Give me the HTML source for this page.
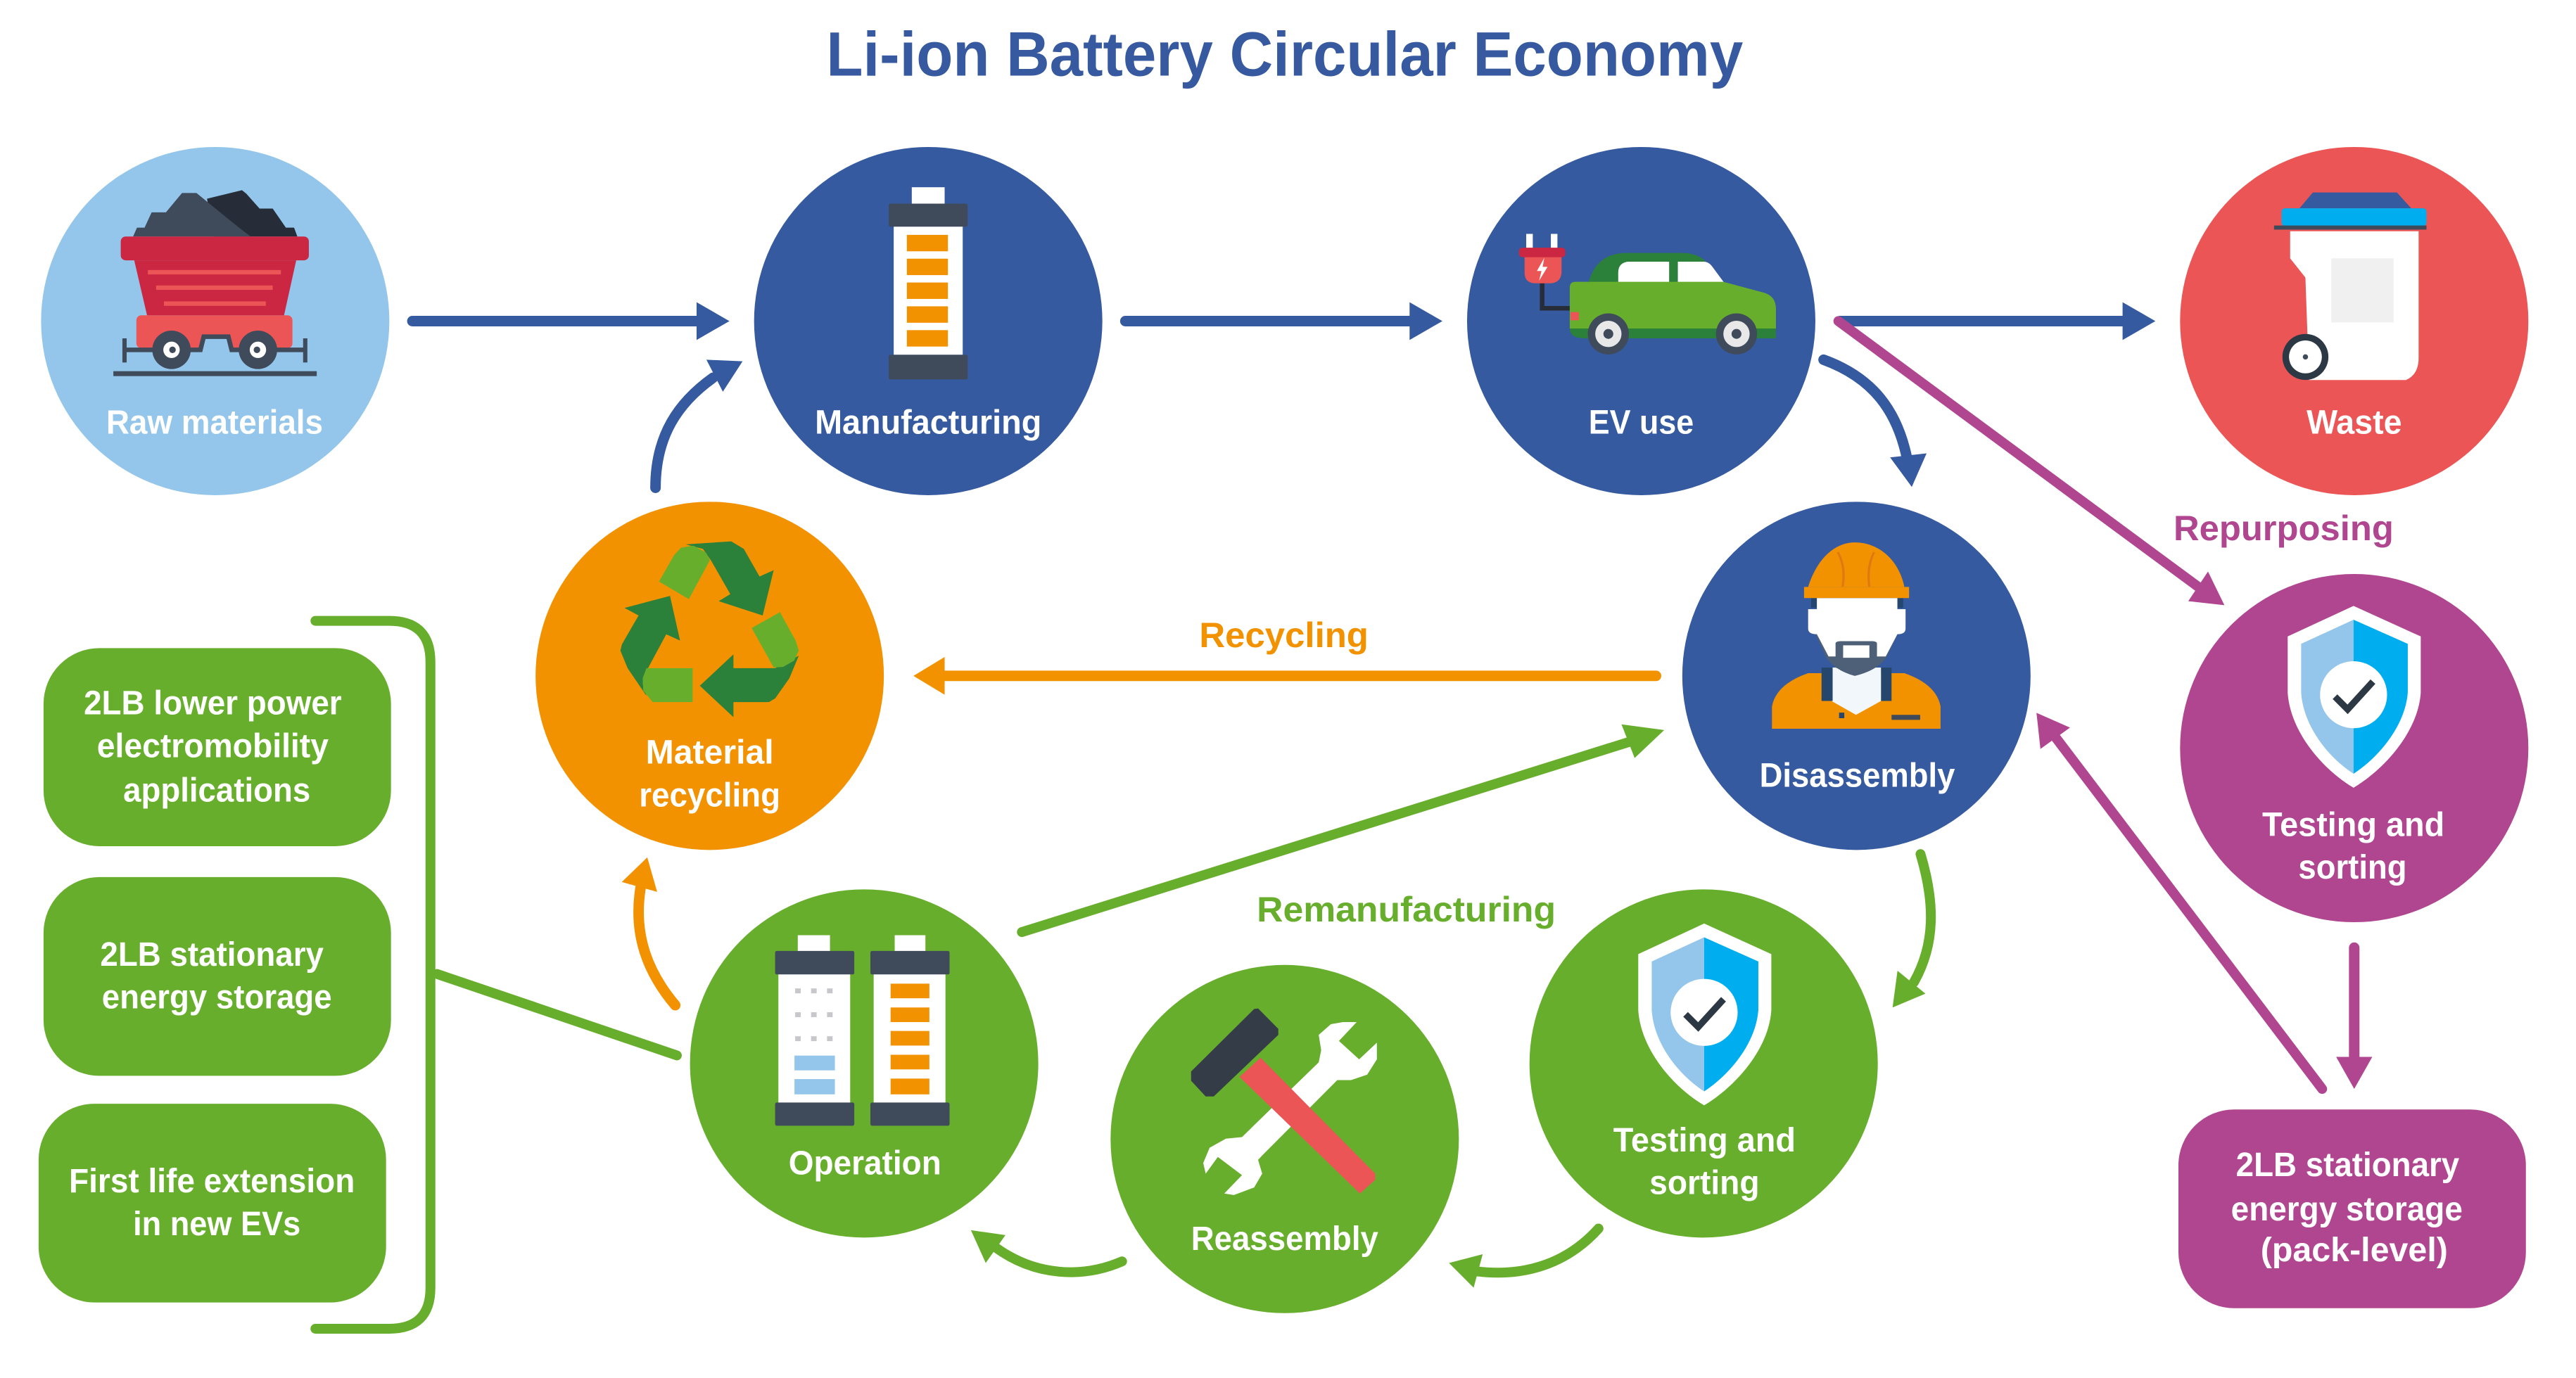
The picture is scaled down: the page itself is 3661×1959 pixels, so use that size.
<!DOCTYPE html>
<html lang="en">
<head>
<meta charset="utf-8">
<title>Li-ion Battery Circular Economy</title>
<style>
html,body{margin:0;padding:0;background:#fff;width:3661px;height:1959px;overflow:hidden}
svg{display:block}
text{font-family:"Liberation Sans",sans-serif;font-weight:700;font-size:20.5px}
.w{fill:#fff}
.l{fill:none;stroke-linecap:round}
</style>
</head>
<body>
<svg width="3661" height="1959" viewBox="0 0 1568 839" xmlns="http://www.w3.org/2000/svg" preserveAspectRatio="none">
<defs>
<g id="shield">
<path d="M1432.6 368.9 L1473.5 387.5 V421.7 C1472 445 1452 468 1432.6 479.6 C1413 468 1394 445 1392.5 421.7 V387.5 Z" fill="#fff"/>
<path d="M1432.6 377.3 L1400.7 392 V421.7 C1402 442 1417 461 1432.6 471.1 Z" fill="#93c6ea"/>
<path d="M1432.6 377.3 L1465.6 392 V421.7 C1464 442 1448 461 1432.6 471.1 Z" fill="#00aeef"/>
<circle cx="1432.6" cy="423" r="20.4" fill="#fff"/>
<polyline points="1421.3,424.2 1429,431.9 1444.4,415" fill="none" stroke="#2d3845" stroke-width="4"/>
</g>
</defs>
<rect width="1568" height="839" fill="#fff"/>

<text x="503" y="46" textLength="558" lengthAdjust="spacingAndGlyphs" style="font-size:38px" fill="#36599f">Li-ion Battery Circular Economy</text>

<!-- circles -->
<circle cx="131" cy="195.5" r="106" fill="#93c6ea"/>
<circle cx="565" cy="195.5" r="106" fill="#365a9f"/>
<circle cx="999" cy="195.5" r="106" fill="#365a9f"/>
<circle cx="1433" cy="195.5" r="106" fill="#ec5555"/>
<circle cx="1130" cy="411.5" r="106" fill="#365a9f"/>
<circle cx="432" cy="411.5" r="106" fill="#f39200"/>
<circle cx="1433" cy="455.5" r="106" fill="#b14690"/>
<circle cx="526" cy="647.5" r="106" fill="#68ae2d"/>
<circle cx="782" cy="693.5" r="106" fill="#68ae2d"/>
<circle cx="1037" cy="647.5" r="106" fill="#68ae2d"/>

<!-- boxes -->
<rect x="26.5" y="394.6" width="211.5" height="120.6" rx="34" fill="#68ae2d"/>
<rect x="26.5" y="534" width="211.5" height="121" rx="34" fill="#68ae2d"/>
<rect x="23.5" y="672" width="211.5" height="121" rx="34" fill="#68ae2d"/>
<rect x="1326" y="675.5" width="211.5" height="121" rx="34" fill="#b14690"/>

<!-- connectors -->
<g class="l" stroke="#365a9f" stroke-width="6.4">
<path class="l" d="M251 195.5 H426"/>
<path class="l" d="M685 195.5 H860"/>
<path class="l" d="M1120 195.5 H1294"/>
<path class="l" d="M399 297 C399 265 413 245 434 230"/>
<path class="l" d="M1110 219 C1140 230 1155 250 1161 280"/>
</g>
<g fill="#365a9f">
<polygon points="424,184 444,195.5 424,207"/>
<polygon points="858,184 878,195.5 858,207"/>
<polygon points="1292,184 1312,195.5 1292,207"/>
<polygon points="452,220 430,219 440,238.5"/>
<polygon points="1163.7,296.5 1150.5,278.5 1172.7,276"/>
</g>

<path class="l" d="M1008 411.5 H573" stroke="#f39200" stroke-width="6.4"/>
<polygon points="556,411.5 575,400 575,423" fill="#f39200"/>
<path class="l" d="M411 612 C395 593 385 570 390 540" stroke="#f39200" stroke-width="6.4"/>
<polygon points="394,522 378.5,537 400,543" fill="#f39200"/>

<g class="l" stroke="#68ae2d" stroke-width="6">
<path class="l" d="M622 567.5 L994 451"/>
<path class="l" d="M1169 520 C1178 550 1178 575 1165 598"/>
<path class="l" d="M973 748 C955 768 930 778 898 774"/>
<path class="l" d="M683 768 C660 778 630 778 604 758"/>
<path class="l" d="M266 593 L412 642.6"/>
<path class="l" d="M192 378 H237 Q262 378 262 403 V784 Q262 809 237 809 H192"/>
</g>
<g fill="#68ae2d">
<polygon points="1013,444.5 987,441 995,461.5"/>
<polygon points="1152,613.4 1155,591 1172,605"/>
<polygon points="882,769 902.5,763.6 897,784"/>
<polygon points="591,749 612,752 600,769"/>
</g>

<g class="l" stroke="#b14690" stroke-width="6">
<path class="l" d="M1119 195.5 L1339 358"/>
<path class="l" d="M1413.5 663 L1249 446"/>
<path class="l" d="M1433 577 V645" stroke-width="6.4"/>
</g>
<g fill="#b14690">
<polygon points="1354,368.5 1344,348 1332,366"/>
<polygon points="1239.6,434 1260,443 1242,456"/>
<polygon points="1422,643.5 1444,643.5 1433,663"/>
</g>

<!-- cart -->
<polygon points="126,121 147.3,115.8 150,118 158,127 166,127 174,138.6 179,138.6 181,144 130,144" fill="#262d38"/>
<polygon points="81,144 83.4,138.6 88,138.6 92.3,129.3 101,129.3 110.8,117.5 119.6,117.5 133,128.5 145.5,138.6 152.6,144" fill="#3f4a5a"/>
<rect x="83" y="192" width="95" height="20" rx="3" fill="#ec5555"/>
<polygon points="81.7,158.5 180.3,158.5 172.9,192 89.5,192" fill="#cb2642"/>
<rect x="73.5" y="144" width="114.5" height="14.5" rx="3" fill="#cb2642"/>
<rect x="90" y="164.4" width="81" height="2.7" fill="#ec5555"/>
<rect x="95" y="173.8" width="71" height="2.7" fill="#ec5555"/>
<rect x="99.8" y="183.5" width="62" height="2.7" fill="#ec5555"/>
<polygon points="122,215 124,205 139,205 141,215" fill="#93c6ea"/>
<polyline points="76,213 122,213 124,205 139,205 141,213 186,213" fill="none" stroke="#3f4a5a" stroke-width="2.8"/>
<rect x="74.5" y="206" width="2.6" height="14.7" fill="#3f4a5a"/>
<rect x="184.5" y="206" width="2.6" height="14.7" fill="#3f4a5a"/>
<circle cx="104.4" cy="213" r="11.7" fill="#3f4a5a"/><circle cx="104.4" cy="213" r="5" fill="#fff"/><circle cx="105" cy="213" r="2" fill="#3f4a5a"/>
<circle cx="157" cy="213" r="11.7" fill="#3f4a5a"/><circle cx="157" cy="213" r="5" fill="#fff"/><circle cx="156.4" cy="213" r="2" fill="#3f4a5a"/>
<rect x="69" y="226" width="123.8" height="3" fill="#3f4a5a"/>

<!-- manufacturing battery -->
<rect x="555" y="114" width="20" height="10" fill="#fff"/>
<rect x="544" y="137" width="42" height="79" fill="#fff"/>
<rect x="541" y="124" width="48" height="14" rx="1" fill="#3f4a5a"/>
<rect x="541" y="216" width="48" height="15" rx="1" fill="#3f4a5a"/>
<rect x="552" y="143" width="25" height="10" fill="#f39200"/>
<rect x="552" y="157.5" width="25" height="10" fill="#f39200"/>
<rect x="552" y="172" width="25" height="10" fill="#f39200"/>
<rect x="552" y="186.5" width="25" height="10" fill="#f39200"/>
<rect x="552" y="201" width="25" height="10" fill="#f39200"/>

<!-- car + plug -->
<rect x="929" y="142.4" width="4" height="9" fill="#fff"/><rect x="944" y="142.4" width="4" height="9" fill="#fff"/>
<path d="M938.7 172 V187.7 H956" fill="none" stroke="#262d38" stroke-width="2.8"/>
<path d="M928 156 H950.5 V166 Q950 172.5 943 172.5 H935 Q928 172.5 928 166 Z" fill="#ec5555"/>
<rect x="924.6" y="150.8" width="28.2" height="5.8" rx="2" fill="#cb2642"/>
<polygon points="940,157 935.5,165 938.3,165 936.8,171 942,162.5 939,162.5" fill="#fff"/>
<path d="M967 172 C970 160 978 154 990 154 H1024 Q1032 154 1037 158 L1049.4 172 Z" fill="#2b803a"/>
<path d="M985 172 V166 Q985 160 991 159.3 H1016 V172 Z" fill="#fff"/>
<path d="M1021.3 159.3 H1037 Q1040 159.3 1042 162 L1049.4 172 H1021.3 Z" fill="#fff"/>
<path d="M959 171.6 H1049 L1073 178 Q1081 180 1081 188 V200 H955.5 V175 Q955.5 171.6 959 171.6 Z" fill="#68ae2d"/>
<path d="M955.5 200 H1081 V206 H965 Q955.5 206 955.5 200 Z" fill="#2b803a"/>
<rect x="956" y="190" width="5" height="5" fill="#ec5555"/>
<circle cx="979" cy="203.3" r="12.5" fill="#3f4a5a"/><circle cx="979" cy="203.3" r="8" fill="#e8e8e8"/><circle cx="979" cy="203.3" r="3" fill="#3f4a5a"/>
<circle cx="1057" cy="203.3" r="12.5" fill="#3f4a5a"/><circle cx="1057" cy="203.3" r="8" fill="#e8e8e8"/><circle cx="1057" cy="203.3" r="3" fill="#3f4a5a"/>

<!-- waste bin -->
<polygon points="1407.8,117.2 1459,117.2 1467.7,126.8 1399.7,126.8" fill="#365a9f"/>
<rect x="1388.8" y="126.8" width="88.2" height="10.8" rx="2" fill="#00aeef"/>
<rect x="1384.2" y="137.3" width="92.8" height="2.5" fill="#3f4a5a"/>
<path d="M1394 140.8 H1472.2 V218 Q1472.2 228 1464.5 231.4 H1405.5 L1403.3 169 L1394 157.3 Z" fill="#fff"/>
<rect x="1419" y="157.3" width="38" height="39" fill="#f0f0f0"/>
<circle cx="1403.3" cy="217.3" r="14" fill="#2d3845"/><circle cx="1403.3" cy="217.3" r="10" fill="#fff"/><circle cx="1403.3" cy="217.3" r="1.6" fill="#3f4a5a"/>

<!-- recycling -->
<g transform="translate(299.8 299.8) scale(.1912 .1529)">
<polygon points="615,207 760,195 800,225 850,335 895,310 860,490 720,433 757,405 695,270 670,225" fill="#2b803a"/>
<polygon points="530,355 578,250 600,220 640,212 680,240 692,270 625,425" fill="#68ae2d"/>
<polygon points="420,460 565,412 597,590 553,565 495,700 478,760 490,810 430,700 407,630 412,605 465,490" fill="#2b803a"/>
<polygon points="490,700 637,700 637,835 510,835 480,790 478,740" fill="#68ae2d"/>
<polygon points="660,770 767,645 767,700 900,700 975,650 945,740 900,820 880,835 767,835 767,895" fill="#2b803a"/>
<polygon points="825,540 915,477 965,590 975,630 960,670 925,695 895,697" fill="#68ae2d"/>
</g>

<!-- worker -->
<g transform="translate(1006.5 299.8) scale(.3551 .1693)">
<path d="M203 850 V770 Q210 690 265 650 H430 Q485 690 492 770 V850 Z" fill="#f39200"/>
<polygon points="305,630 390,630 390,750 347,800 305,750" fill="#f2f7fc"/>
<rect x="288" y="630" width="19" height="120" fill="#25466d"/>
<rect x="390" y="630" width="18" height="120" fill="#25466d"/>
<rect x="318" y="792" width="9" height="20" fill="#25466d"/>
<rect x="408" y="800" width="49" height="18" fill="#3f4a5a"/>
<rect x="270" y="380" width="10" height="35" fill="#25466d"/><rect x="418" y="380" width="10" height="35" fill="#25466d"/>
<path d="M278 510 L295 590 Q310 640 345 660 Q385 640 400 590 L418 510 Z" fill="#4e6078"/>
<path d="M280 380 H418 V420 H432 V490 Q432 510 418 510 L398 590 H300 L280 510 Q265 510 265 490 V420 H280 Z" fill="#fff"/>
<rect x="312" y="535" width="71" height="65" rx="8" fill="#4e6078"/>
<rect x="325" y="550" width="45" height="45" fill="#fff"/>
<path d="M298 595 H397 L380 630 L345 658 L312 630 Z" fill="#4e6078"/>
<path d="M265 340 C280 240 310 180 345 180 C385 180 420 240 430 340 Z" fill="#f39200"/>
<rect x="258" y="340" width="180" height="40" fill="#f39200"/>
<path d="M316 215 Q330 270 324 340 M378 215 Q365 270 370 340" fill="none" stroke="#e07a10" stroke-width="4"/>
</g>

<!-- shields -->
<use href="#shield"/>
<use href="#shield" transform="translate(-395.3 193.4)"/>

<!-- operation batteries -->
<g>
<rect x="485.6" y="569.4" width="19.6" height="10" fill="#fff"/>
<rect x="473.8" y="592" width="43.7" height="80" fill="#fff"/>
<rect x="471.8" y="579" width="48.2" height="14.3" rx="1" fill="#3f4a5a"/>
<rect x="471.8" y="671.3" width="48.2" height="14.1" rx="1" fill="#3f4a5a"/>
<g fill="#c8c8cc">
<rect x="484" y="601.8" width="3.4" height="3"/><rect x="493.7" y="601.8" width="3.4" height="3"/><rect x="503.4" y="601.8" width="3.4" height="3"/>
<rect x="484" y="616.3" width="3.4" height="3"/><rect x="493.7" y="616.3" width="3.4" height="3"/><rect x="503.4" y="616.3" width="3.4" height="3"/>
<rect x="484" y="630.9" width="3.4" height="3"/><rect x="493.7" y="630.9" width="3.4" height="3"/><rect x="503.4" y="630.9" width="3.4" height="3"/>
</g>
<rect x="483.6" y="642.7" width="24.6" height="9" fill="#93c6ea"/>
<rect x="483.6" y="657" width="24.6" height="9.3" fill="#93c6ea"/>
<rect x="544.6" y="569.4" width="18.7" height="10" fill="#fff"/>
<rect x="531.8" y="592" width="43.7" height="80" fill="#fff"/>
<rect x="529.8" y="579" width="48.2" height="14.3" rx="1" fill="#3f4a5a"/>
<rect x="529.8" y="671.3" width="48.2" height="14.1" rx="1" fill="#3f4a5a"/>
<rect x="542.1" y="598.9" width="23.6" height="8.9" fill="#f39200"/>
<rect x="542.1" y="613.4" width="23.6" height="8.9" fill="#f39200"/>
<rect x="542.1" y="627.7" width="23.6" height="8.9" fill="#f39200"/>
<rect x="542.1" y="642.2" width="23.6" height="8.9" fill="#f39200"/>
<rect x="542.1" y="656.7" width="23.6" height="9.6" fill="#f39200"/>
</g>

<!-- tools -->
<polygon points="817.5,622.3 825.8,622.3 815,633.8 827.3,645 838.1,634.8 838.1,645 832.2,654.3 822.4,657.6 814,657.6 768.3,703.5 765.8,706.2 768.3,714.6 763.4,723 751.1,727.6 745.2,726.7 756,715.5 741.3,704.4 733.9,714.6 732.4,708.1 736.3,698.8 746.2,693.3 756,692.3 802.7,646.8 804.2,639.4 802.7,630.1 810.1,623.6" fill="#fff"/>
<polygon points="767.3,644 837.1,714.6 837.1,718.3 827.8,726.7 754.5,655.7" fill="#ec5555"/>
<polygon points="765.8,614 778.1,626.4 778.1,630.1 738.8,667.6 733.9,667.6 725,658 725,652.4 763.4,614.3" fill="#343c48"/>

<!-- node labels -->
<g class="w" fill="#fff">
<text x="64.6" y="264" textLength="132" lengthAdjust="spacingAndGlyphs">Raw materials</text>
<text x="496" y="264" textLength="138" lengthAdjust="spacingAndGlyphs">Manufacturing</text>
<text x="967" y="264" textLength="64" lengthAdjust="spacingAndGlyphs">EV use</text>
<text x="1404" y="264" textLength="58" lengthAdjust="spacingAndGlyphs">Waste</text>
<text x="1071" y="479" textLength="119" lengthAdjust="spacingAndGlyphs">Disassembly</text>
<text x="393" y="465" textLength="78" lengthAdjust="spacingAndGlyphs">Material</text>
<text x="389" y="491" textLength="86" lengthAdjust="spacingAndGlyphs">recycling</text>
<text x="1377" y="509" textLength="111" lengthAdjust="spacingAndGlyphs">Testing and</text>
<text x="1399" y="535" textLength="66" lengthAdjust="spacingAndGlyphs">sorting</text>
<text x="480" y="715" textLength="93" lengthAdjust="spacingAndGlyphs">Operation</text>
<text x="725" y="761" textLength="114" lengthAdjust="spacingAndGlyphs">Reassembly</text>
<text x="982" y="701" textLength="111" lengthAdjust="spacingAndGlyphs">Testing and</text>
<text x="1004" y="727" textLength="67" lengthAdjust="spacingAndGlyphs">sorting</text>
<text x="51" y="435" textLength="157" lengthAdjust="spacingAndGlyphs">2LB lower power</text>
<text x="59" y="461" textLength="141" lengthAdjust="spacingAndGlyphs">electromobility</text>
<text x="75" y="488" textLength="114" lengthAdjust="spacingAndGlyphs">applications</text>
<text x="61" y="588" textLength="136" lengthAdjust="spacingAndGlyphs">2LB stationary</text>
<text x="62" y="614" textLength="140" lengthAdjust="spacingAndGlyphs">energy storage</text>
<text x="42" y="726" textLength="174" lengthAdjust="spacingAndGlyphs">First life extension</text>
<text x="81" y="752" textLength="102" lengthAdjust="spacingAndGlyphs">in new EVs</text>
<text x="1361" y="716" textLength="136" lengthAdjust="spacingAndGlyphs">2LB stationary</text>
<text x="1358" y="743" textLength="141" lengthAdjust="spacingAndGlyphs">energy storage</text>
<text x="1376" y="768" textLength="114" lengthAdjust="spacingAndGlyphs">(pack-level)</text>
</g>

<!-- pathway labels -->
<text x="730" y="394" textLength="103" lengthAdjust="spacingAndGlyphs" fill="#f39200" style="font-size:21.5px">Recycling</text>
<text x="765" y="561" textLength="182" lengthAdjust="spacingAndGlyphs" fill="#68ae2d" style="font-size:21.5px">Remanufacturing</text>
<text x="1323" y="329" textLength="134" lengthAdjust="spacingAndGlyphs" fill="#b14690" style="font-size:21.5px">Repurposing</text>
</svg>
</body>
</html>
